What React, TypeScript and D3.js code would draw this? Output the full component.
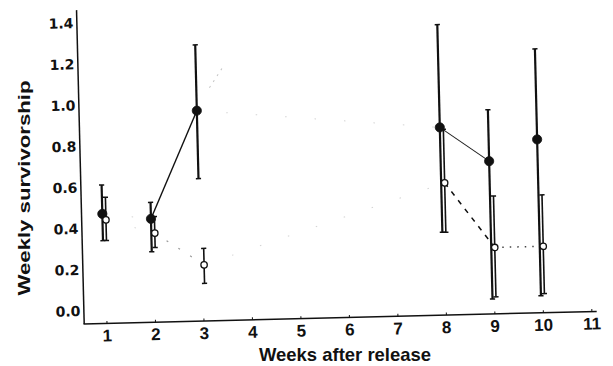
import { useEffect, useRef } from "react"
import * as d3 from "d3"

// weeks with observations
const weeks = [1, 2, 3, 8, 9, 10]

// filled circles
const filledMean = [0.47, 0.44, 0.96, 0.85, 0.68, 0.78]
const filledLow = [0.34, 0.28, 0.63, 0.34, 0.01, 0.02]
const filledHigh = [0.61, 0.52, 1.28, 1.35, 0.93, 1.22]
const filledLinks = ["faint", "solid", "faint", "thin", "none"]

// open symbols
const openMean = [0.44, 0.37, 0.21, 0.58, 0.26, 0.26]
const openLow = [0.34, 0.3, 0.12, 0.34, 0.02, 0.03]
const openHigh = [0.55, 0.45, 0.29, 0.84, 0.51, 0.51]
const openLinks = ["faint", "faded", "faint", "dashed", "dotted"]

// faded trace left over in the print
const strayWeeks = [3.23, 3.52]
const strayValues = [1.07, 1.17]

const xTicks = [1, 2, 3, 4, 5, 6, 7, 8, 9, 10, 11]
const yTicks = [0, 0.2, 0.4, 0.6, 0.8, 1.0, 1.2, 1.4]

const linkStyles: Record<string, { stroke: string; width: number; dash: string | null }> = {
  solid: { stroke: "#111", width: 1.4, dash: null },
  thin: { stroke: "#222", width: 1, dash: null },
  dashed: { stroke: "#111", width: 1.5, dash: "5 6" },
  dotted: { stroke: "#444", width: 1.5, dash: "1.5 6" },
  faded: { stroke: "#999", width: 1.2, dash: "2 12" },
  faint: { stroke: "#d4d4d4", width: 1, dash: "1.5 28" },
}

export default function App() {
  const svgRef = useRef<SVGSVGElement>(null)

  useEffect(() => {
    const svg = d3.select(svgRef.current)
    svg.selectAll("*").remove()

    const W = 613
    const H = 366
    svg.attr("width", W).attr("height", H)
    svg.append("rect").attr("width", W).attr("height", H).attr("fill", "#fff")

    const x = d3.scaleLinear().domain([0, 11]).range([58.5, 592])
    const y = d3.scaleLinear().domain([0, 1.4]).range([311, 23])

    const x0 = x(0.53)
    const yBase = y(-0.063)

    // the printed figure sits slightly rotated
    const g = svg.append("g").attr("transform", `rotate(-1.4, ${x0}, ${yBase})`)

    // axes
    g.append("line")
      .attr("x1", x0).attr("x2", x0)
      .attr("y1", yBase).attr("y2", y(1.463))
      .attr("stroke", "#111").attr("stroke-width", 1.5)
    g.append("line")
      .attr("x1", x0 - 0.7).attr("x2", x(11.1))
      .attr("y1", yBase).attr("y2", yBase)
      .attr("stroke", "#111").attr("stroke-width", 1.5)

    g.selectAll(".xtick")
      .data(xTicks)
      .enter()
      .append("line")
      .attr("x1", (d) => x(d)).attr("x2", (d) => x(d))
      .attr("y1", yBase).attr("y2", yBase - 2.5)
      .attr("stroke", "#111").attr("stroke-width", 1)

    g.selectAll(".xlab")
      .data(xTicks)
      .enter()
      .append("text")
      .attr("x", (d) => x(d))
      .attr("y", yBase + 18)
      .attr("text-anchor", "middle")
      .style("font-family", "'Liberation Sans', Arial, sans-serif")
      .style("font-weight", "bold")
      .style("font-size", "17px")
      .style("fill", "#111")
      .text((d) => String(d))

    g.selectAll(".ylab")
      .data(yTicks)
      .enter()
      .append("text")
      .attr("x", x0 - 3.5)
      .attr("y", (d) => y(d))
      .attr("dy", "0.36em")
      .attr("text-anchor", "end")
      .style("font-family", "'DejaVu Sans', sans-serif")
      .style("font-weight", "bold")
      .style("font-size", "14px")
      .style("fill", "#111")
      .text((d) => d.toFixed(1))

    const series = [
      { mean: filledMean, low: filledLow, high: filledHigh, links: filledLinks, shift: -2, barW: 2.2, filled: true },
      { mean: openMean, low: openLow, high: openHigh, links: openLinks, shift: 1.5, barW: 1.6, filled: false },
    ]

    // connecting lines
    series.forEach((s) => {
      s.links.forEach((kind, i) => {
        const st = linkStyles[kind]
        if (!st) return
        const ln = g.append("line")
          .attr("x1", x(weeks[i]) + s.shift).attr("y1", y(s.mean[i]))
          .attr("x2", x(weeks[i + 1]) + s.shift).attr("y2", y(s.mean[i + 1]))
          .attr("stroke", st.stroke).attr("stroke-width", st.width)
        if (st.dash) ln.attr("stroke-dasharray", st.dash)
      })
    })

    const stray = d3.line<number>()
      .x((d, i) => x(strayWeeks[i]))
      .y((d) => y(d))
    g.append("path")
      .attr("d", stray(strayValues))
      .attr("fill", "none")
      .attr("stroke", "#c4c4c4")
      .attr("stroke-width", 1)
      .attr("stroke-dasharray", "2 5")

    // error bars and markers
    series.forEach((s) => {
      weeks.forEach((w, i) => {
        const cx = x(w) + s.shift
        g.append("line")
          .attr("x1", cx).attr("x2", cx)
          .attr("y1", y(s.low[i])).attr("y2", y(s.high[i]))
          .attr("stroke", "#111").attr("stroke-width", s.barW)
        ;[s.low[i], s.high[i]].forEach((v) => {
          g.append("line")
            .attr("x1", cx - 2.6).attr("x2", cx + 2.6)
            .attr("y1", y(v)).attr("y2", y(v))
            .attr("stroke", "#111").attr("stroke-width", 1.5)
        })
      })
    })

    series.forEach((s) => {
      g.selectAll(null)
        .data(weeks)
        .enter()
        .append("circle")
        .attr("cx", (w) => x(w) + s.shift)
        .attr("cy", (w, i) => y(s.mean[i]))
        .attr("r", s.filled ? 4.6 : 3.2)
        .attr("fill", s.filled ? "#111" : "#fff")
        .attr("stroke", "#111")
        .attr("stroke-width", s.filled ? 0.8 : 1.3)
    })

    // axis titles
    svg.append("text")
      .attr("x", 345)
      .attr("y", 361)
      .attr("text-anchor", "middle")
      .attr("textLength", 172)
      .attr("lengthAdjust", "spacingAndGlyphs")
      .style("font-family", "'Liberation Sans', Arial, sans-serif")
      .style("font-weight", "bold")
      .style("font-size", "19px")
      .style("fill", "#111")
      .text("Weeks after release")

    svg.append("text")
      .attr("transform", "translate(30, 188) rotate(-90)")
      .attr("text-anchor", "middle")
      .attr("textLength", 215)
      .attr("lengthAdjust", "spacingAndGlyphs")
      .style("font-family", "'Liberation Sans', Arial, sans-serif")
      .style("font-weight", "bold")
      .style("font-size", "16px")
      .style("fill", "#111")
      .text("Weekly survivorship")
  }, [])

  return (
    <svg ref={svgRef} style={{ position: "absolute", left: 0, top: 0, display: "block" }}></svg>
  )
}
